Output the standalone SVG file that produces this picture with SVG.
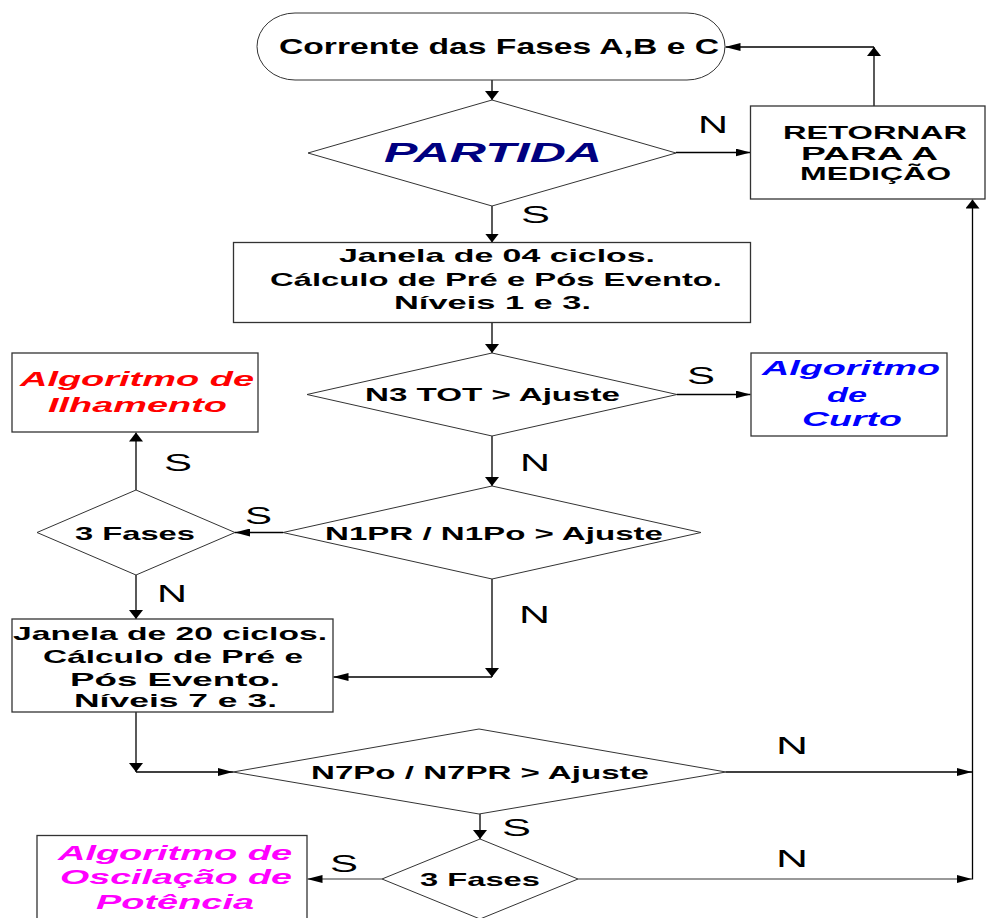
<svg xmlns="http://www.w3.org/2000/svg" width="986" height="918" viewBox="0 0 986 918">
<style>
.t{font-family:"Liberation Sans",Arial,sans-serif;font-weight:bold;fill:#000}
.it{font-style:italic}
.lbl{font-family:"Liberation Sans",Arial,sans-serif;font-size:23px;fill:#000}
.shape{fill:#fff;stroke:#333;stroke-width:1}
.box{fill:#fff;stroke:#333;stroke-width:1.3}
.conn{fill:none;stroke:#000;stroke-width:1.3}
.gray{stroke:#777}
</style>
<defs>
<marker id="ah" viewBox="0 0 15 8" refX="15" refY="4" markerWidth="15" markerHeight="8" orient="auto" markerUnits="userSpaceOnUse"><path d="M0,0 L15,4 L0,8 z" fill="#000"/></marker>
<marker id="av" viewBox="0 0 9 14" refX="9" refY="7" markerWidth="9" markerHeight="14" orient="auto" markerUnits="userSpaceOnUse"><path d="M0,0 L9,7 L0,14 z" fill="#000"/></marker>
</defs>
<rect width="986" height="918" fill="#fff"/>
<g id="connectors">
<path class="conn" d="M492,80 L492,100" marker-end="url(#av)"/>
<path class="conn" d="M676,152.5 L750.5,152.5" marker-end="url(#ah)"/>
<path class="conn" d="M874,106 L874,47" marker-end="url(#av)"/>
<path class="conn" d="M874,47 L725.5,47" marker-end="url(#ah)"/>
<path class="conn" d="M492,206 L492,242.5" marker-end="url(#av)"/>
<path class="conn" d="M492,322.5 L492,353" marker-end="url(#av)"/>
<path class="conn" d="M677,394.5 L750.5,394.5" marker-end="url(#ah)"/>
<path class="conn" d="M492,436 L492,486" marker-end="url(#av)"/>
<path class="conn" d="M283,532.5 L235,532.5" marker-end="url(#ah)"/>
<path class="conn" d="M136,490 L136,432.5" marker-end="url(#av)"/>
<path class="conn" d="M136,575 L136,619" marker-end="url(#av)"/>
<path class="conn" d="M492,579 L492,677" marker-end="url(#av)"/>
<path class="conn" d="M492,677 L333.5,677" marker-end="url(#ah)"/>
<path class="conn" d="M136,712 L136,772" marker-end="url(#av)"/>
<path class="conn" d="M136,772 L233,772" marker-end="url(#ah)"/>
<path class="conn" d="M726,772 L972,772" marker-end="url(#ah)"/>
<path class="conn" d="M480,814 L480,839" marker-end="url(#av)"/>
<path class="conn gray" d="M382,879 L307.5,879" marker-end="url(#ah)"/>
<path class="conn gray" d="M578,879 L972,879" marker-end="url(#ah)"/>
<path class="conn" d="M972.5,879.5 L972.5,199.5" marker-end="url(#av)"/>
<text class="lbl" x="698" y="133" textLength="30" lengthAdjust="spacingAndGlyphs">N</text>
<text class="lbl" x="521" y="223" textLength="29" lengthAdjust="spacingAndGlyphs">S</text>
<text class="lbl" x="687" y="384" textLength="28" lengthAdjust="spacingAndGlyphs">S</text>
<text class="lbl" x="520" y="471" textLength="30" lengthAdjust="spacingAndGlyphs">N</text>
<text class="lbl" x="245" y="524" textLength="27" lengthAdjust="spacingAndGlyphs">S</text>
<text class="lbl" x="164" y="471" textLength="28" lengthAdjust="spacingAndGlyphs">S</text>
<text class="lbl" x="157" y="601.5" textLength="30" lengthAdjust="spacingAndGlyphs">N</text>
<text class="lbl" x="519" y="622.5" textLength="31" lengthAdjust="spacingAndGlyphs">N</text>
<text class="lbl" x="776" y="754" textLength="32" lengthAdjust="spacingAndGlyphs">N</text>
<text class="lbl" x="502" y="836" textLength="29" lengthAdjust="spacingAndGlyphs">S</text>
<text class="lbl" x="330" y="871.5" textLength="28" lengthAdjust="spacingAndGlyphs">S</text>
<text class="lbl" x="776" y="867" textLength="32" lengthAdjust="spacingAndGlyphs">N</text>
</g>
<g id="inicio">
<rect class="shape" x="257" y="13" width="468" height="67" rx="38" ry="33.5"/>
<text class="t" x="279" y="54" font-size="22" textLength="440" lengthAdjust="spacingAndGlyphs">Corrente das Fases A,B e C</text>
</g>
<g id="partida">
<polygon class="shape" points="492,100 676,153 492,206 308,153"/>
<text class="t it" x="384" y="162" font-size="27" style="fill:#000080" textLength="218" lengthAdjust="spacingAndGlyphs">PARTIDA</text>
</g>
<g id="retornar">
<rect class="box" x="750.5" y="106" width="234.5" height="93"/>
<text class="t" x="783" y="138.5" font-size="18" textLength="184" lengthAdjust="spacingAndGlyphs">RETORNAR</text>
<text class="t" x="801" y="159.5" font-size="18" textLength="137" lengthAdjust="spacingAndGlyphs">PARA A</text>
<text class="t" x="800" y="180" font-size="18" textLength="151" lengthAdjust="spacingAndGlyphs">MEDIÇÃO</text>
</g>
<g id="janela04">
<rect class="box" x="233.5" y="242.5" width="517" height="80"/>
<text class="t" x="339" y="262" font-size="18.5" textLength="316" lengthAdjust="spacingAndGlyphs">Janela de 04 ciclos.</text>
<text class="t" x="270" y="285.5" font-size="18.5" textLength="452" lengthAdjust="spacingAndGlyphs">Cálculo de Pré e Pós Evento.</text>
<text class="t" x="394" y="309" font-size="18.5" textLength="197" lengthAdjust="spacingAndGlyphs">Níveis 1 e 3.</text>
</g>
<g id="n3tot">
<polygon class="shape" points="492,353 677,394.5 492,436 307,394.5"/>
<text class="t" x="365" y="401" font-size="19" textLength="255" lengthAdjust="spacingAndGlyphs">N3 TOT &gt; Ajuste</text>
</g>
<g id="curto">
<rect class="box" x="751" y="353" width="196" height="83"/>
<text class="t it" x="762" y="375" font-size="19.5" style="fill:#0000FF" textLength="178" lengthAdjust="spacingAndGlyphs">Algoritmo</text>
<text class="t it" x="827" y="401.5" font-size="19.5" style="fill:#0000FF" textLength="40" lengthAdjust="spacingAndGlyphs">de</text>
<text class="t it" x="802" y="426" font-size="19.5" style="fill:#0000FF" textLength="100" lengthAdjust="spacingAndGlyphs">Curto</text>
</g>
<g id="n1pr">
<polygon class="shape" points="492,486 701,532.5 492,579 283,532.5"/>
<text class="t" x="325" y="539.5" font-size="19" textLength="338" lengthAdjust="spacingAndGlyphs">N1PR / N1Po &gt; Ajuste</text>
</g>
<g id="fases1">
<polygon class="shape" points="136,490 235,532.5 136,575 37,532.5"/>
<text class="t" x="75" y="539.5" font-size="19" textLength="120" lengthAdjust="spacingAndGlyphs">3 Fases</text>
</g>
<g id="ilhamento">
<rect class="box" x="12" y="353" width="246" height="79"/>
<text class="t it" x="20" y="386" font-size="19.5" style="fill:#FF0000" textLength="234" lengthAdjust="spacingAndGlyphs">Algoritmo de</text>
<text class="t it" x="48" y="411.5" font-size="19.5" style="fill:#FF0000" textLength="179" lengthAdjust="spacingAndGlyphs">Ilhamento</text>
</g>
<g id="janela20">
<rect class="box" x="12" y="619" width="321" height="93"/>
<text class="t" x="13" y="640" font-size="18.5" textLength="314" lengthAdjust="spacingAndGlyphs">Janela de 20 ciclos.</text>
<text class="t" x="43" y="663" font-size="18.5" textLength="260" lengthAdjust="spacingAndGlyphs">Cálculo de Pré e</text>
<text class="t" x="70" y="686" font-size="18.5" textLength="210" lengthAdjust="spacingAndGlyphs">Pós Evento.</text>
<text class="t" x="74" y="707" font-size="18.5" textLength="203" lengthAdjust="spacingAndGlyphs">Níveis 7 e 3.</text>
</g>
<g id="n7po">
<polygon class="shape" points="479,729 726,772 479,814 233,772"/>
<text class="t" x="311" y="778.5" font-size="19" textLength="338" lengthAdjust="spacingAndGlyphs">N7Po / N7PR &gt; Ajuste</text>
</g>
<g id="fases2">
<polygon class="shape" points="480,839 578,879 480,919 382,879"/>
<text class="t" x="420" y="885.5" font-size="19" textLength="120" lengthAdjust="spacingAndGlyphs">3 Fases</text>
</g>
<g id="oscilacao">
<rect class="box" x="37" y="835.5" width="270" height="100"/>
<text class="t it" x="58" y="860" font-size="19.5" style="fill:#FF00FF" textLength="234" lengthAdjust="spacingAndGlyphs">Algoritmo de</text>
<text class="t it" x="60" y="884" font-size="19.5" style="fill:#FF00FF" textLength="232" lengthAdjust="spacingAndGlyphs">Oscilação de</text>
<text class="t it" x="96" y="909" font-size="19.5" style="fill:#FF00FF" textLength="158" lengthAdjust="spacingAndGlyphs">Potência</text>
</g>
</svg>
